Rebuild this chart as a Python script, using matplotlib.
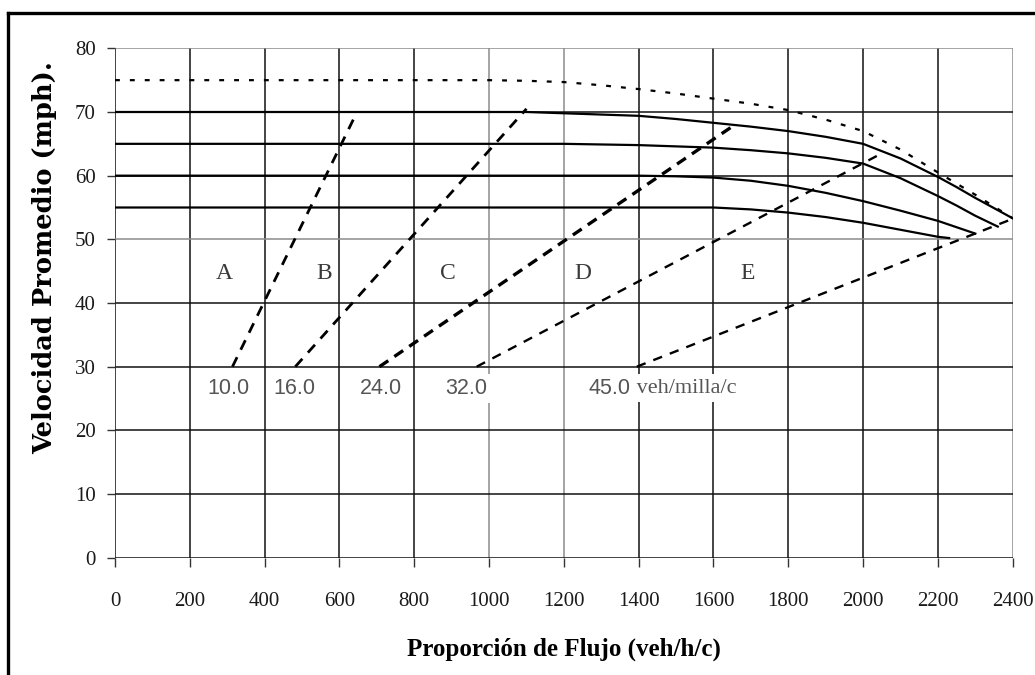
import matplotlib.pyplot as plt
from matplotlib.lines import Line2D

plt.rcParams["font.family"] = ["Liberation Serif", "DejaVu Serif"]

# curvas velocidad-flujo (flujo en veh/h/c, velocidad en mph)
flujo_75 = [0, 1000, 1100, 1200, 1300, 1400, 1500, 1600, 1700, 1800, 1900, 2000, 2100, 2200, 2300, 2400]
vel_75 = [75, 75, 74.9, 74.7, 74.2, 73.6, 72.9, 72.1, 71.3, 70.3, 68.8, 67.0, 64.1, 60.5, 57.0, 53.3]

flujo_70 = [0, 1100, 1200, 1300, 1400, 1500, 1600, 1700, 1800, 1900, 2000, 2100, 2200, 2250, 2300, 2350, 2400]
vel_70 = [70, 70, 69.8, 69.6, 69.4, 68.9, 68.3, 67.7, 67.0, 66.1, 65.0, 62.7, 59.8, 58.2, 56.5, 54.9, 53.3]

flujo_65 = [0, 1200, 1300, 1400, 1500, 1600, 1700, 1800, 1900, 2000, 2100, 2200, 2250, 2300, 2360]
vel_65 = [65, 65, 64.9, 64.8, 64.6, 64.4, 64.0, 63.5, 62.8, 61.9, 59.6, 56.8, 55.3, 53.7, 52.0]

flujo_60 = [0, 1400, 1500, 1600, 1700, 1800, 1900, 2000, 2100, 2200, 2250, 2300]
vel_60 = [60, 60, 59.9, 59.7, 59.2, 58.4, 57.3, 56.0, 54.5, 52.9, 51.9, 50.9]

flujo_55 = [0, 1600, 1700, 1800, 1900, 2000, 2100, 2200, 2230]
vel_55 = [55, 55, 54.7, 54.2, 53.5, 52.6, 51.5, 50.4, 50.2]

# líneas de densidad (veh/milla/c)
densidades = ["10.0", "16.0", "24.0", "32.0", "45.0"]
dens_flujo = [[314, 647], [482, 1100], [707, 1652], [967, 2040], [1395, 2390]]
dens_vel = [[30, 70], [30, 70.5], [30, 67.8], [30, 63.2], [30, 53.0]]
dens_lbl_x = [303, 480, 711, 938, 1267]
dens_lbl_y = 26.6
unidad = " veh/milla/c"

# niveles de servicio
niveles = ["A", "B", "C", "D", "E"]
nivel_x = [293, 558, 891, 1250, 1691]
nivel_y = 44.7

x_ticks = list(range(0, 2401, 200))
y_ticks = list(range(0, 81, 10))

fig = plt.figure(figsize=(10.35, 6.75), dpi=100)
ax = fig.add_axes([0.1111, 0.1738, 0.8674, 0.7546])

# rejilla dibujada a mano (algunas líneas salen grises en el original)
gris_x = [1000, 1200, 2400]
gris_y = [50, 80]
for xv in x_ticks:
    c = "#8c8c8c" if xv in gris_x else "#111111"
    ax.axvline(xv, color=c, lw=1.1, zorder=1)
for yv in y_ticks:
    c = "#8c8c8c" if yv in gris_y else "#111111"
    ax.axhline(yv, color=c, lw=1.1, zorder=1)

# velocidad a flujo libre
ax.plot(flujo_75, vel_75, color="black", lw=1.6, linestyle=(0, (2.2, 4.5)), zorder=4)
for fx, vy in [(flujo_70, vel_70), (flujo_65, vel_65), (flujo_60, vel_60), (flujo_55, vel_55)]:
    ax.plot(fx, vy, color="black", lw=1.6, zorder=4)

estilos = [(2.0, (3.8, 3.0)), (2.0, (3.8, 3.0)), (2.4, (3.2, 2.2)), (1.7, (4.0, 3.5)), (1.7, (4.0, 3.5))]
for fx, vy, (lw, dash) in zip(dens_flujo, dens_vel, estilos):
    ax.plot(fx, vy, color="black", lw=lw, linestyle=(0, dash), zorder=4)

caja = dict(boxstyle="square,pad=0.2", facecolor="white", edgecolor="none")
for lbl, xv in zip(densidades[:-1], dens_lbl_x[:-1]):
    ax.text(xv, dens_lbl_y, lbl, ha="center", va="center", fontsize=15.5,
            family="Liberation Sans", color="#555555", bbox=caja, zorder=3)
t45 = ax.text(dens_lbl_x[-1], dens_lbl_y, densidades[-1], ha="left", va="center",
              fontsize=15.5, family="Liberation Sans", color="#555555", bbox=caja, zorder=3.5)
ax.annotate(unidad, xy=(1, 0.5), xycoords=t45, ha="left", va="center",
            fontsize=16, color="#555555", bbox=caja, zorder=3)

for lbl, xv in zip(niveles, nivel_x):
    ax.text(xv, nivel_y, lbl, ha="center", va="center", fontsize=17, color="#3a3a3a", zorder=3)

ax.set_xlim(0, 2400)
ax.set_ylim(0, 80)
ax.set_xticks(x_ticks)
ax.set_yticks(y_ticks)
for s in ax.spines.values():
    s.set_visible(False)
ax.tick_params(axis="x", direction="out", length=6.5, width=1, color="#333333",
               pad=18.5, labelsize=15, labelcolor="#1a1a1a")
ax.tick_params(axis="y", direction="out", length=6, width=1, color="#333333",
               pad=8, labelsize=15, labelcolor="#1a1a1a")

ax.set_xlabel("Proporción de Flujo (veh/h/c)", fontsize=18, fontweight="bold")
ax.xaxis.set_label_coords(0.5, -0.18)
ax.xaxis.label.set_va("center")
# en el original el rótulo vertical está estirado; una serif ancha lo aproxima
ax.set_ylabel("Velocidad Promedio (mph).", fontsize=18.5, fontweight="bold",
              family=["DejaVu Serif"])
ax.yaxis.set_label_coords(-0.078, 0.59)
ax.yaxis.label.set_va("center")

# marco exterior (solo arriba e izquierda, como en la imagen recortada)
fig.add_artist(Line2D([8 / 1035, 1.0], [1 - 13 / 675, 1 - 13 / 675], color="black", lw=2.4))
fig.add_artist(Line2D([8 / 1035, 8 / 1035], [0.0, 1 - 13 / 675], color="black", lw=2.4))

fig.savefig("out.png", dpi=100)
